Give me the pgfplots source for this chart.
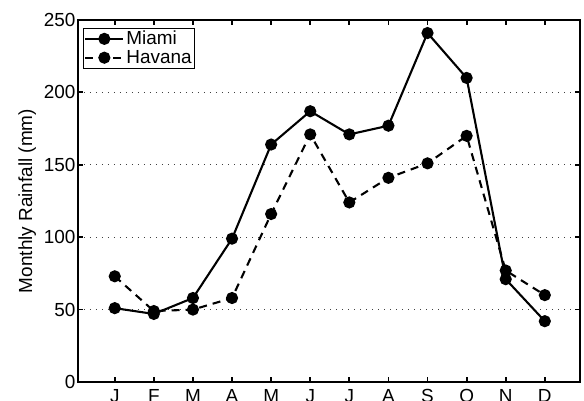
\documentclass[border=0pt]{standalone}
\usepackage{pgfplots}
\pgfplotsset{compat=1.18}
\usepackage{fontspec}
\setmainfont{Liberation Sans}
\usetikzlibrary{calc}

% Monthly rainfall (mm)
\pgfplotstableread{
m  rain
1  51
2  47
3  58
4  99
5  164
6  187
7  171
8  177
9  241
10 210
11 71
12 42
}\miami
\pgfplotstableread{
m  rain
1  73
2  49
3  50
4  58
5  116
6  171
7  124
8  141
9  151
10 170
11 77
12 60
}\havana

\begin{document}
\begin{tikzpicture}
\begin{axis}[
  scale only axis,
  width=502bp, height=362bp,
  xmin=0.06, xmax=12.9,
  ymin=0, ymax=250,
  xtick={1,...,12},
  xticklabels={J,F,M,A,M,J,J,A,S,O,N,D},
  ytick={0,50,...,250},
  xtick pos=both, ytick pos=both,
  xticklabel pos=left, yticklabel pos=left,
  tick align=inside,
  major tick length=5bp,
  tick style={black, line width=1.8pt},
  axis line style={black, line width=3pt},
  ymajorgrids,
  grid style={black!75, line width=0.9pt, dash pattern=on 1.1bp off 4.9bp},
  ylabel={Monthly Rainfall (mm)},
  label style={font=\fontsize{19}{21}\selectfont},
  ticklabel style={font=\fontsize{19}{21}\selectfont},
  /pgf/number format/assume math mode=true,
  xticklabel style={yshift=-3.5bp},
  yticklabel style={xshift=1bp},
  ylabel style={yshift=1bp},
  legend style={
    at={(0.01,0.978)}, anchor=north west,
    draw=black, line width=0.6pt,
    font=\fontsize{19}{21}\selectfont,
    inner sep=1bp, row sep=0bp,
    /tikz/every even column/.append style={column sep=2bp}
  },
  legend cell align=left,
  legend image code/.code={
    \draw[mark repeat=2, mark phase=2]
      plot coordinates {(0bp,0bp) (19bp,0bp) (38bp,0bp)};
  },
]
\addplot[black, line width=2.1pt, mark=*, mark size=5bp,
  mark options={solid}] table[x=m, y=rain] {\miami};
\addlegendentry{Miami}
\addplot[black, line width=2.1pt, dash pattern=on 8bp off 6bp, mark=*,
  mark size=5bp, mark options={solid}] table[x=m, y=rain] {\havana};
\addlegendentry{Havana}
\end{axis}
\pgfresetboundingbox
\useasboundingbox ($(current axis.south west)+(-78bp,-19bp)$)
  rectangle ($(current axis.north east)+(4bp,20bp)$);
\end{tikzpicture}
\end{document}
